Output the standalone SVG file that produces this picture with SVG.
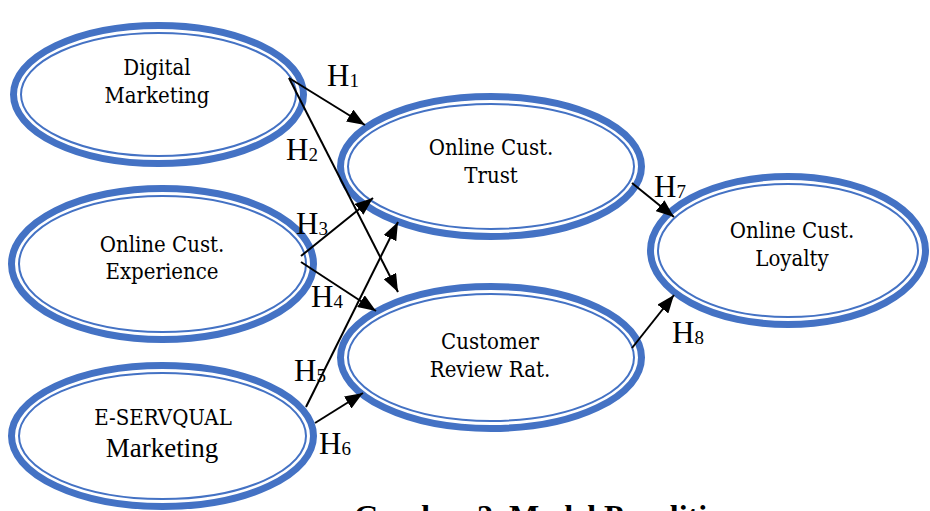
<svg xmlns="http://www.w3.org/2000/svg" width="930" height="511" viewBox="0 0 930 511">
  <defs>
    <marker id="arrow" viewBox="0 0 18 14" refX="18" refY="7" markerWidth="18" markerHeight="14" markerUnits="userSpaceOnUse" orient="auto">
      <path d="M0,0 L18,7 L0,14 Z" fill="#000"/>
    </marker>
  </defs>
  <style>
    .ring { fill: #fff; stroke: #4472C4; stroke-width: 7; }
    .inner { fill: none; stroke: #4472C4; stroke-width: 2; }
    .label { font-family: "DejaVu Serif Condensed", "DejaVu Serif", serif; font-stretch: condensed; font-size: 22px; fill: #000; text-anchor: middle; }
    .big { font-family: "Liberation Serif", "Times New Roman", serif; font-size: 27px; fill: #000; text-anchor: middle; }
    .hyp { font-family: "Liberation Serif", "Times New Roman", serif; font-size: 31px; fill: #000; }
    .sub { font-size: 19px; }
    .link { stroke: #000; stroke-width: 2; fill: none; marker-end: url(#arrow); }
    .caption { font-family: "Liberation Serif", "Times New Roman", serif; font-weight: bold; font-size: 32px; fill: #000; }
  </style>

  <rect width="930" height="511" fill="#fff"/>

  <g id="digital-marketing">
    <ellipse class="ring" cx="158.5" cy="94.5" rx="145" ry="69"/>
    <ellipse class="inner" cx="158.5" cy="94.5" rx="137.5" ry="61.5"/>
    <text class="label" x="157" y="75">Digital</text>
    <text class="label" x="157" y="103">Marketing</text>
  </g>

  <g id="customer-experience">
    <ellipse class="ring" cx="162.5" cy="264" rx="151" ry="75.5"/>
    <ellipse class="inner" cx="162.5" cy="264" rx="143.5" ry="68"/>
    <text class="label" x="162" y="252">Online Cust.</text>
    <text class="label" x="162" y="279">Experience</text>
  </g>

  <g id="eservqual-marketing">
    <ellipse class="ring" cx="162.5" cy="436" rx="151" ry="70.5"/>
    <ellipse class="inner" cx="162.5" cy="436" rx="143.5" ry="63"/>
    <text class="label" x="163" y="425">E-SERVQUAL</text>
    <text class="big" x="162" y="457">Marketing</text>
  </g>

  <g id="customer-trust">
    <ellipse class="ring" cx="491" cy="166.5" rx="150.5" ry="70"/>
    <ellipse class="inner" cx="491" cy="166.5" rx="143" ry="62.5"/>
    <text class="label" x="491" y="155">Online Cust.</text>
    <text class="label" x="491" y="183">Trust</text>
  </g>

  <g id="review-rating">
    <ellipse class="ring" cx="491" cy="357.5" rx="150.5" ry="71"/>
    <ellipse class="inner" cx="491" cy="357.5" rx="143" ry="63.5"/>
    <text class="label" x="490" y="349">Customer</text>
    <text class="label" x="490" y="377">Review Rat.</text>
  </g>

  <g id="customer-loyalty">
    <ellipse class="ring" cx="788" cy="250.5" rx="137.5" ry="74"/>
    <ellipse class="inner" cx="788" cy="250.5" rx="130" ry="66.5"/>
    <text class="label" x="792" y="238">Online Cust.</text>
    <text class="label" x="792" y="266">Loyalty</text>
  </g>

  <g id="connectors">
    <line class="link" x1="289" y1="78" x2="365" y2="125"/>
    <line class="link" x1="289" y1="78" x2="398" y2="292"/>
    <line class="link" x1="301" y1="256" x2="373" y2="198"/>
    <line class="link" x1="301" y1="262" x2="376" y2="311"/>
    <line class="link" x1="306" y1="407" x2="398" y2="222"/>
    <line class="link" x1="315" y1="423" x2="363" y2="393"/>
    <line class="link" x1="632" y1="183" x2="674" y2="217"/>
    <line class="link" x1="632" y1="348" x2="674" y2="295"/>
  </g>

  <g id="hypotheses">
    <text class="hyp" x="327" y="86">H<tspan class="sub" dy="1">1</tspan></text>
    <text class="hyp" x="286" y="160">H<tspan class="sub" dy="1">2</tspan></text>
    <text class="hyp" x="296" y="234">H<tspan class="sub" dy="1">3</tspan></text>
    <text class="hyp" x="311" y="307">H<tspan class="sub" dy="1">4</tspan></text>
    <text class="hyp" x="294" y="381">H<tspan class="sub" dy="1">5</tspan></text>
    <text class="hyp" x="319" y="454">H<tspan class="sub" dy="1">6</tspan></text>
    <text class="hyp" x="654" y="197">H<tspan class="sub" dy="1">7</tspan></text>
    <text class="hyp" x="672" y="343">H<tspan class="sub" dy="1">8</tspan></text>
  </g>

  <text class="caption" x="354" y="527">Gambar 2. Model Penelitian</text>
</svg>
